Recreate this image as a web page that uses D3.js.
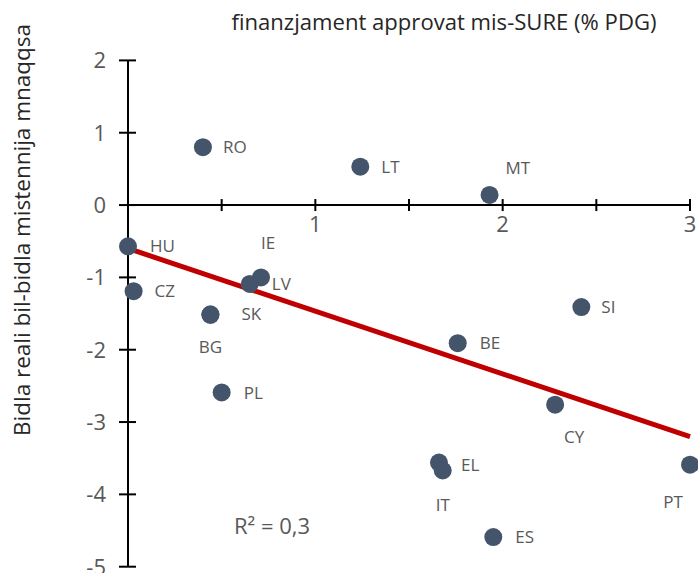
<!DOCTYPE html>
<html>
<head>
<meta charset="utf-8">
<script src="https://cdn.jsdelivr.net/npm/d3@7"></script>
<style>
  body { margin: 0; background: #fff; }
  text { font-family: "Open Sans", sans-serif; }
</style>
</head>
<body>
<div id="chart"></div>
<script>
// data
var countries = ["RO", "LT", "MT", "HU", "IE", "LV", "CZ", "SK", "BG", "PL", "BE", "SI", "CY", "EL", "IT", "ES", "PT"];
var sureFunding = [0.40, 1.24, 1.93, 0.00, 0.71, 0.65, 0.03, 0.44, 0.44, 0.50, 1.76, 2.42, 2.28, 1.66, 1.68, 1.95, 3.00];
var gapValues = [0.80, 0.53, 0.14, -0.57, -1.00, -1.09, -1.19, -1.51, -1.52, -2.59, -1.91, -1.41, -2.76, -3.56, -3.67, -4.59, -3.59];
var xTicks = [1, 2, 3];
var yTicks = [2, 1, 0, -1, -2, -3, -4, -5];
var trendX = [0, 3];
var trendY = [-0.60, -3.20];
var rSquared = "R² = 0,3";

// where each label sits next to its dot
var labelOffsets = {
  RO: [20, 0, "start"], LT: [21, 0, "start"], MT: [16, -27, "start"],
  HU: [22, 0, "start"], IE: [7, -35, "middle"], LV: [22, 0, "start"],
  CZ: [21, 0, "start"], SK: [31, 0, "start"], BG: [0, 32, "middle"],
  PL: [22, 0, "start"], BE: [22, 0, "start"], SI: [20, 0, "start"],
  CY: [19, 32, "middle"], EL: [22, 2, "start"], IT: [0, 34, "middle"],
  ES: [22, 0, "start"], PT: [-17, 37, "middle"]
};

var svgWidth = 698, svgHeight = 573;

var svg = d3.select("#chart")
  .append("svg")
  .attr("width", svgWidth)
  .attr("height", svgHeight);

var xScale = d3.scaleLinear().domain([0, 3]).range([128, 690]);
var yScale = d3.scaleLinear().domain([-5, 2]).range([566.7, 60.4]);

// axes
var xAxis = svg.append("g")
  .attr("transform", `translate(0, ${yScale(0)})`);
xAxis.append("line")
  .attr("x1", xScale(0)).attr("x2", xScale(3))
  .attr("stroke", "#000").attr("stroke-width", 2);
xAxis.selectAll("line.tick")
  .data(d3.range(0.5, 3.01, 0.5))
  .enter().append("line")
  .attr("class", "tick")
  .attr("x1", d => xScale(d)).attr("x2", d => xScale(d))
  .attr("y1", -6).attr("y2", 6)
  .attr("stroke", "#000").attr("stroke-width", 2);
xAxis.selectAll("text")
  .data(xTicks)
  .enter().append("text")
  .attr("x", d => xScale(d))
  .attr("y", 11)
  .attr("dy", "0.71em")
  .attr("text-anchor", "middle")
  .attr("fill", "#595959")
  .style("font-size", "22px")
  .text(d => d);

var yAxis = svg.append("g")
  .attr("transform", `translate(${xScale(0)}, 0)`);
yAxis.append("line")
  .attr("y1", yScale(2)).attr("y2", yScale(-5))
  .attr("stroke", "#000").attr("stroke-width", 2);
yAxis.selectAll("line.tick")
  .data(yTicks)
  .enter().append("line")
  .attr("class", "tick")
  .attr("x1", -9).attr("x2", 8)
  .attr("y1", d => yScale(d)).attr("y2", d => yScale(d))
  .attr("stroke", "#000").attr("stroke-width", 2);
yAxis.selectAll("text")
  .data(yTicks)
  .enter().append("text")
  .attr("x", -22)
  .attr("y", d => yScale(d))
  .attr("dy", "0.36em")
  .attr("text-anchor", "end")
  .attr("fill", "#595959")
  .style("font-size", "22px")
  .text(d => d < 0 ? "-" + Math.abs(d) : d);

// trend line
svg.append("line")
  .attr("x1", xScale(trendX[0])).attr("y1", yScale(trendY[0]))
  .attr("x2", xScale(trendX[1])).attr("y2", yScale(trendY[1]))
  .attr("stroke", "#c00000")
  .attr("stroke-width", 5);

// dots
var points = countries.map((c, i) => ({abbr: c, x: sureFunding[i], y: gapValues[i]}));

svg.append("g").selectAll("circle")
  .data(points)
  .enter().append("circle")
  .attr("cx", d => xScale(d.x))
  .attr("cy", d => yScale(d.y))
  .attr("r", 9)
  .attr("fill", "#44546a");

svg.append("g").selectAll("text")
  .data(points)
  .enter().append("text")
  .attr("x", d => xScale(d.x) + labelOffsets[d.abbr][0])
  .attr("y", d => yScale(d.y) + labelOffsets[d.abbr][1])
  .attr("dy", "0.36em")
  .attr("text-anchor", d => labelOffsets[d.abbr][2])
  .attr("fill", "#595959")
  .style("font-size", "17px")
  .text(d => d.abbr);

// titles
svg.append("text")
  .attr("x", 444)
  .attr("y", 30)
  .attr("text-anchor", "middle")
  .attr("fill", "#262626")
  .attr("textLength", 425)
  .attr("lengthAdjust", "spacingAndGlyphs")
  .style("font-size", "21px")
  .text("finanzjament approvat mis-SURE (% PDG)");

svg.append("text")
  .attr("transform", "translate(30, 230) rotate(-90)")
  .attr("text-anchor", "middle")
  .attr("fill", "#262626")
  .attr("textLength", 412)
  .attr("lengthAdjust", "spacingAndGlyphs")
  .style("font-size", "21px")
  .text("Bidla reali bil-bidla mistennija mnaqqsa");

svg.append("text")
  .attr("x", 272)
  .attr("y", 526)
  .attr("dy", "0.36em")
  .attr("text-anchor", "middle")
  .attr("fill", "#595959")
  .style("font-size", "22px")
  .text(rSquared);
</script>
</body>
</html>
